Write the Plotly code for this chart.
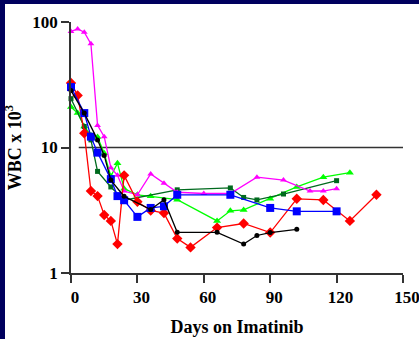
import plotly.graph_objects as go

# ---- data (days on imatinib, WBC x 10^3) ----
magenta_days = [0, 3, 6, 9, 12, 15, 18, 21, 24, 30, 36, 42, 48, 60, 72, 84, 96, 108, 114, 120]
magenta_wbc  = [84, 88, 83, 67, 15, 12.2, 6.9, 6.0, 4.5, 4.2, 6.15, 5.2, 4.4, 4.3, 4.3, 5.8, 5.5, 4.5, 4.5, 4.7]

red_days = [0, 3, 6, 9, 12, 15, 18, 21, 24, 30, 36, 42, 48, 54, 66, 78, 90, 102, 114, 126, 138]
red_wbc  = [32.7, 26, 13, 4.5, 4.1, 2.9, 2.6, 1.7, 6.0, 3.7, 3.15, 3.0, 1.88, 1.6, 2.3, 2.48, 2.1, 3.9, 3.82, 2.6, 4.2]

green_days = [0, 3, 6, 9, 12, 15, 18, 21, 24, 30, 36, 48, 66, 72, 78, 90, 102, 114, 126]
green_wbc  = [21, 18.8, 14.7, 12.5, 12.1, 9.0, 5.9, 7.5, 4.7, 4.2, 4.08, 3.84, 2.6, 3.13, 3.18, 3.9, 4.85, 5.8, 6.3]

dkgreen_days = [0, 6, 9, 12, 18, 24, 48, 72, 78, 84, 96, 120]
dkgreen_wbc  = [24.5, 14.7, 11.5, 6.45, 4.85, 3.8, 4.6, 4.76, 4.0, 3.82, 4.26, 5.44]

blue_days = [0, 6, 9, 12, 18, 21, 24, 30, 36, 42, 48, 72, 90, 102, 120]
blue_wbc  = [30.3, 18.8, 12.2, 9.1, 5.6, 4.1, 3.8, 2.8, 3.3, 3.4, 4.2, 4.2, 3.3, 3.1, 3.1]

black_days = [0, 6, 12, 15, 18, 24, 36, 42, 48, 66, 78, 84, 90, 102]
black_wbc  = [28.4, 18.8, 11.5, 8.65, 5.5, 4.08, 3.2, 3.84, 2.11, 2.11, 1.7, 1.99, 2.1, 2.23]

x_ticks = [0, 30, 60, 90, 120, 150]
x_ticklabels = ["0", "30", "60", "90", "120", "150"]
y_ticks = [1, 10, 100]
y_ticklabels = ["1", "10", "100"]
ref_level = 10

series = [
    (green_days, green_wbc, "#00ff00", "triangle-up", 7),
    (dkgreen_days, dkgreen_wbc, "#006a1e", "square", 5),
    (magenta_days, magenta_wbc, "#ff00ff", "triangle-up", 6),
    (red_days, red_wbc, "#ff0000", "diamond", 8),
    (blue_days, blue_wbc, "#0000ff", "square", 8),
    (black_days, black_wbc, "#000000", "circle", 5),
]

fig = go.Figure()
for xs, ys, col, sym, sz in series:
    fig.add_trace(go.Scatter(
        x=xs, y=ys, mode="lines+markers",
        line=dict(color=col, width=1.3),
        marker=dict(color=col, symbol=sym, size=sz, line=dict(width=0)),
        showlegend=False, cliponaxis=False,
    ))

W, H = 419, 339
L, R, T, B = 71, 16, 22, 66
pw, ph = W - L - R, H - T - B

def px_x(p):
    return (p - L) / pw

def px_y(p):
    return (H - B - p) / ph

navy = "#00005e"
shapes = [
    # reference line at 10
    dict(type="line", xref="x", yref="y", x0=3.5, x1=150, y0=ref_level, y1=ref_level,
         line=dict(color="#333333", width=1.5), layer="below"),
    # navy frame strips (left and top)
    dict(type="rect", xref="paper", yref="paper", x0=px_x(-5), x1=px_x(5),
         y0=px_y(H + 5), y1=px_y(-5), fillcolor=navy, line=dict(width=0)),
    dict(type="rect", xref="paper", yref="paper", x0=px_x(-5), x1=px_x(W + 5),
         y0=px_y(4), y1=px_y(-5), fillcolor=navy, line=dict(width=0)),
]

font_family = "Liberation Serif"
tick_font = dict(family=font_family, size=17, color="black", weight="bold")
fig.update_layout(
    width=W, height=H,
    margin=dict(l=L, r=R, t=T, b=B, autoexpand=False),
    paper_bgcolor="white", plot_bgcolor="white",
    shapes=shapes,
    font=dict(family=font_family, color="black"),
    xaxis=dict(
        range=[0, 150], tickvals=x_ticks, ticktext=["<b>%s</b>" % t for t in x_ticklabels],
        showgrid=False, zeroline=False, automargin=False,
        showline=True, linecolor="#333333", linewidth=1.5,
        ticks="outside", ticklen=8, tickwidth=1.5, tickcolor="#333333",
        tickfont=tick_font, ticklabelshift=4, ticklabeloverflow="allow",
        title=dict(text="<b>Days on Imatinib</b>", standoff=14,
                   font=dict(family=font_family, size=18, color="black")),
    ),
    yaxis=dict(
        type="log", range=[0, 2], tickvals=y_ticks,
        ticktext=["<b>%s</b>" % t for t in y_ticklabels],
        showgrid=False, zeroline=False, automargin=False,
        showline=True, linecolor="#333333", linewidth=1.5,
        ticks="outside", ticklen=8, tickwidth=1.5, tickcolor="#333333",
        tickfont=tick_font, ticklabeloverflow="allow",
        title=dict(text="<b>WBC x 10<sup>3</sup></b>", standoff=6,
                   font=dict(family=font_family, size=18, color="black")),
    ),
)

fig.write_html(
    "out.html",
    config={"displayModeBar": False},
    post_script="document.body.style.margin='0';document.body.style.overflow='hidden';",
)
